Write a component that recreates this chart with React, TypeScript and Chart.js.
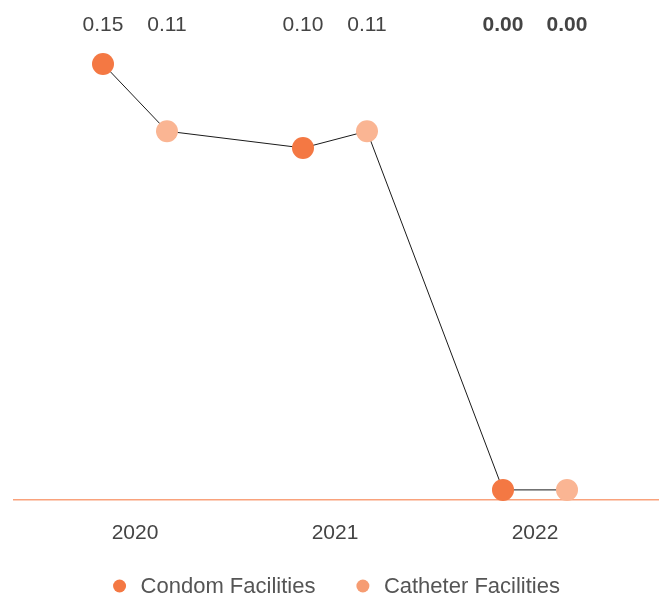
import React, { useEffect, useRef } from "react";
import { Chart, registerables } from "chart.js";

Chart.register(...registerables);

// ---- data ----
const years = ["2020", "2021", "2022"];
const condomValues = [0.15, 0.1, 0.0];
const catheterValues = [0.11, 0.11, 0.0];
const seriesNames = ["Condom Facilities", "Catheter Facilities"];

// ---- styling ----
const CONDOM_COLOR = "#F47843";
const CATHETER_COLOR = "#FAB593";
const CATHETER_LEGEND_COLOR = "#F69C72";
const AXIS_COLOR = "#F9A27C";
const TEXT_COLOR = "#444444";
const FONT = "'Liberation Sans', Arial, Helvetica, sans-serif";
const FONT_SIZE = 21;
const LEGEND_FONT_SIZE = 22;
const GROUP_OFFSET = 0.16; // horizontal spread of the two series within a year
const Y_MIN = -0.1095;
const Y_MAX = 0.1619;
const ZERO_FLOOR = -0.1036; // zero-valued (no data) points sit on the floor

const plotY = (v: number) => (v === 0 ? ZERO_FLOOR : v);

const topLabelPlugin = {
  id: "topLabels",
  afterDatasetsDraw(chart: any) {
    const ctx = chart.ctx;
    ctx.save();
    ctx.fillStyle = TEXT_COLOR;
    ctx.textAlign = "center";
    ctx.textBaseline = "alphabetic";
    [condomValues, catheterValues].forEach((vals, di) => {
      const meta = chart.getDatasetMeta(di);
      meta.data.forEach((el: any, i: number) => {
        const v = vals[i];
        ctx.font = `${v === 0 ? "bold " : ""}${FONT_SIZE}px ${FONT}`;
        ctx.fillText(v.toFixed(2), el.x, 31);
      });
    });
    ctx.restore();
  },
};

const legendPlugin = {
  id: "customLegend",
  afterDraw(chart: any) {
    const ctx = chart.ctx;
    const items = [
      { text: seriesNames[0], color: CONDOM_COLOR },
      { text: seriesNames[1], color: CATHETER_LEGEND_COLOR },
    ];
    const r = 6.5;
    const textGap = 14.5;
    const itemGap = 41;
    ctx.save();
    ctx.font = `${LEGEND_FONT_SIZE}px ${FONT}`;
    const widths = items.map((it) => 2 * r + textGap + ctx.measureText(it.text).width);
    const total = widths.reduce((a, b) => a + b, 0) + itemGap * (items.length - 1);
    const ca = chart.chartArea;
    let x = (ca.left + ca.right) / 2 - total / 2;
    const y = 586;
    items.forEach((it, i) => {
      ctx.fillStyle = it.color;
      ctx.beginPath();
      ctx.arc(x + r, y, r, 0, Math.PI * 2);
      ctx.fill();
      ctx.fillStyle = "#555555";
      ctx.textAlign = "left";
      ctx.textBaseline = "middle";
      ctx.fillText(it.text, x + 2 * r + textGap, y + 1);
      x += widths[i] + itemGap;
    });
    ctx.restore();
  },
};

export default function App() {
  const ref = useRef<HTMLCanvasElement | null>(null);

  useEffect(() => {
    document.body.style.margin = "0";
    if (!ref.current) return;
    Chart.defaults.font.family = FONT;

    const condomPts = condomValues.map((v, i) => ({ x: i - GROUP_OFFSET, y: plotY(v) }));
    const catheterPts = catheterValues.map((v, i) => ({ x: i + GROUP_OFFSET, y: plotY(v) }));
    const pathPts: { x: number; y: number }[] = [];
    years.forEach((_, i) => {
      pathPts.push(condomPts[i]);
      pathPts.push(catheterPts[i]);
    });

    const chart = new Chart(ref.current, {
      type: "line",
      data: {
        datasets: [
          {
            label: seriesNames[0],
            data: condomPts,
            showLine: false,
            pointRadius: 11,
            pointHoverRadius: 11,
            pointBackgroundColor: CONDOM_COLOR,
            pointBorderWidth: 0,
            backgroundColor: CONDOM_COLOR,
            borderColor: CONDOM_COLOR,
            clip: false,
            order: 1,
          },
          {
            label: seriesNames[1],
            data: catheterPts,
            showLine: false,
            pointRadius: 11,
            pointHoverRadius: 11,
            pointBackgroundColor: CATHETER_COLOR,
            pointBorderWidth: 0,
            backgroundColor: CATHETER_COLOR,
            borderColor: CATHETER_COLOR,
            clip: false,
            order: 1,
          },
          {
            label: "path",
            data: pathPts,
            borderColor: "#1a1a1a",
            borderWidth: 1,
            pointRadius: 0,
            fill: false,
            tension: 0,
            clip: false,
            order: 5,
          },
        ],
      },
      options: {
        responsive: false,
        animation: false,
        layout: { autoPadding: false, padding: { left: 14, right: 0, top: 44, bottom: 30 } },
        plugins: {
          legend: { display: false },
          tooltip: { enabled: false },
        },
        scales: {
          x: {
            type: "linear",
            min: -0.605,
            max: 2.62,
            grid: { display: false, drawTicks: false },
            border: { display: true, color: AXIS_COLOR, width: 1.5 },
            afterBuildTicks: (scale: any) => {
              scale.ticks = years.map((_, i) => ({ value: i }));
            },
            ticks: {
              padding: 21,
              color: TEXT_COLOR,
              font: { size: FONT_SIZE, family: FONT },
              callback: (v: any) => years[Math.round(Number(v))] ?? "",
              maxRotation: 0,
              autoSkip: false,
            },
          },
          y: {
            display: false,
            min: Y_MIN,
            max: Y_MAX,
          },
        },
      },
      plugins: [topLabelPlugin, legendPlugin],
    } as any);

    return () => chart.destroy();
  }, []);

  return (
    <div style={{ width: 659, height: 597 }}>
      <canvas ref={ref} width={659} height={597} style={{ display: "block" }} />
    </div>
  );
}
